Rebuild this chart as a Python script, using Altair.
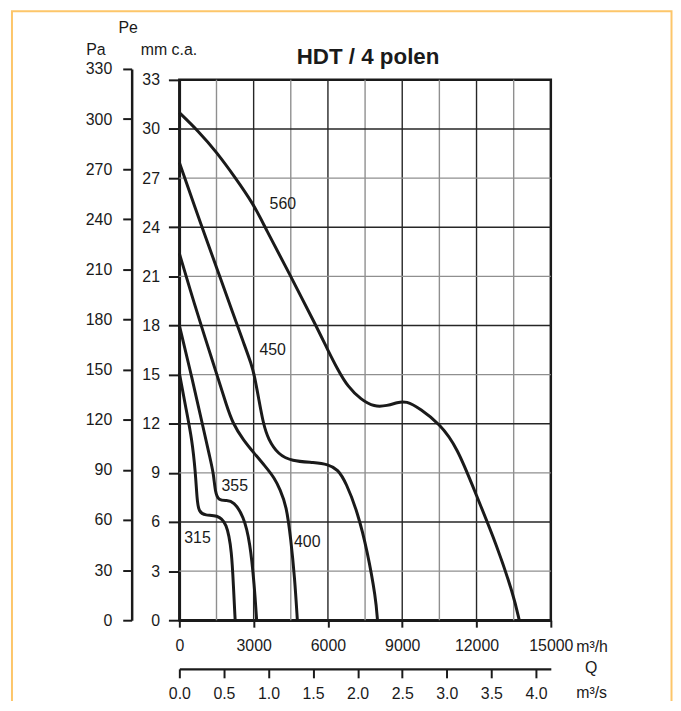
import altair as alt
import pandas as pd

TITLE = "HDT / 4 polen"

# Fan curves: Q in m3/h, pressure in mm c.a.
CURVE_NAMES = ["315", "355", "400", "450", "560"]
Q_315 = [0, 249, 513, 650, 714, 782, 1051, 1516, 1917, 2118, 2186, 2254]
MM_315 = [15.1, 13.06, 11.04, 9.02, 7.4, 6.6, 6.39, 6.43, 5.99, 4.17, 2.0, 0.0]
Q_355 = [0, 481, 934, 1250, 1380, 1450, 1585, 1917, 2186, 2587, 2855, 3028, 3121]
MM_355 = [18.0, 15.0, 11.95, 9.83, 8.96, 7.8, 7.3, 7.32, 7.25, 6.4, 4.78, 2.14, 0.0]
Q_400 = [0, 650, 1050, 1516, 1917, 2150, 2580, 3020, 3457, 3858, 4059, 4324, 4500, 4660, 4765]
MM_400 = [22.4, 19.1, 17.2, 15.0, 13.06, 12.05, 11.0, 10.2, 9.42, 8.65, 8.0, 7.0, 4.97, 2.55, 0.0]
Q_450 = [0, 915, 1500, 2200, 2580, 2920, 3028, 3189, 3389, 3590, 3991, 4524, 5462, 6000, 6400, 6730, 7200, 7600, 7934, 8000]
MM_450 = [27.95, 24.0, 21.55, 18.6, 17.0, 15.6, 14.95, 13.67, 12.0, 11.04, 10.13, 9.72, 9.63, 9.52, 9.22, 8.41, 6.59, 4.17, 1.33, 0.0]
Q_560 = [0, 750, 1500, 2250, 3000, 3457, 4500, 5527, 5995, 6397, 6798, 7333, 7868, 8403, 8804, 9150, 9740, 10500, 11210, 12000, 12815, 13500, 13724]
MM_560 = [31.0, 29.9, 28.6, 27.05, 25.4, 24.0, 21.0, 17.97, 16.5, 15.3, 14.27, 13.47, 13.02, 13.1, 13.3, 13.4, 12.9, 12.0, 10.6, 7.6, 4.6, 1.5, 0.0]

LABEL_Q = [734, 2238, 5166, 3770, 4179]
LABEL_MM = [5.03, 8.19, 4.79, 16.52, 25.4]

Q_TICKS = [0, 3000, 6000, 9000, 12000, 15000]
Q_GRID = [1500, 3000, 4500, 6000, 7500, 9000, 10500, 12000, 13500]
MM_TICKS = [0, 3, 6, 9, 12, 15, 18, 21, 24, 27, 30, 33]
MM_GRID = [3, 6, 9, 12, 15, 18, 21, 24, 27, 30]
PA_TICKS = [0, 30, 60, 90, 120, 150, 180, 210, 240, 270, 300, 330]
QS_TICKS = [0.0, 0.5, 1.0, 1.5, 2.0, 2.5, 3.0, 3.5, 4.0]

W, H = 374, 544
FONT = "Liberation Sans, Arial, sans-serif"
INK = "#1a1a1a"
LBL = 16

rows = []
for name, qs, ms in zip(CURVE_NAMES, [Q_315, Q_355, Q_400, Q_450, Q_560],
                        [MM_315, MM_355, MM_400, MM_450, MM_560]):
    for i, (q, m) in enumerate(zip(qs, ms)):
        rows.append({"curve": name, "i": i, "q": q, "mm": m})
curves_df = pd.DataFrame(rows)
labels_df = pd.DataFrame({"curve": CURVE_NAMES, "q": LABEL_Q, "mm": LABEL_MM})
vgrid_df = pd.DataFrame({"q": Q_GRID, "kind": ["major" if v % 3000 == 0 else "minor" for v in Q_GRID]})
hgrid_df = pd.DataFrame({"mm": MM_GRID, "kind": ["major" if v % 6 == 0 else "minor" for v in MM_GRID]})

xs = alt.Scale(domain=[0, 15000], nice=False, zero=False)
ys = alt.Scale(domain=[0, 33], nice=False, zero=False)

common = dict(title="", grid=False, tickWidth=2, tickColor=INK, domainColor=INK, domainWidth=2.5,
              labelFont=FONT, labelFontSize=LBL, labelColor=INK, labelOverlap=False, labelFlush=False)

x_axis = alt.Axis(values=Q_TICKS, format="d", tickSize=7, labelPadding=11, **common)
y_axis = alt.Axis(values=MM_TICKS, format="d", tickSize=11, labelPadding=9, **common)

def X(field="q"):
    return alt.X(f"{field}:Q", scale=xs, axis=x_axis)

def Y(field="mm"):
    return alt.Y(f"{field}:Q", scale=ys, axis=y_axis)

grid_color = alt.Color("kind:N", scale=alt.Scale(domain=["major", "minor"], range=["#262626", "#8f8f8f"]), legend=None)

vgrid = alt.Chart(vgrid_df).mark_rule(strokeWidth=1.4).encode(x=X(), color=grid_color)
hgrid = alt.Chart(hgrid_df).mark_rule(strokeWidth=1.4).encode(y=Y(), color=grid_color)

lines = alt.Chart(curves_df).mark_line(color=INK, strokeWidth=3, interpolate="basis").encode(
    x=X(), y=Y(), detail="curve:N", order="i:Q")

clabels = alt.Chart(labels_df).mark_text(font=FONT, fontSize=LBL, color=INK, baseline="middle").encode(
    x=X(), y=Y(), text="curve:N")

def note(txt, px, py, align="center", size=LBL, weight="normal"):
    return alt.Chart(pd.DataFrame({"t": [txt]})).mark_text(
        font=FONT, fontSize=size, fontWeight=weight, color=INK, align=align, baseline="alphabetic"
    ).encode(text="t:N", x=alt.value(px), y=alt.value(py))

# plot origin is at page (180.5, 78)
border = alt.Chart(pd.DataFrame({"t": [""]})).mark_rect(
    fill="transparent", stroke="#fdc66a", strokeWidth=2
).encode(x=alt.value(-168.5), x2=alt.value(495.5), y=alt.value(-69), y2=alt.value(700))

notes = [
    note(TITLE, 190, -16, size=22.5, weight="bold"),
    note("Pe", -51.5, -47),
    note("Pa", -84, -25),
    note("mm c.a.", -10.5, -25),
    note("m³/h", 399.5, 576, align="left"),
    note("Q", 414.5, 597),
    note("m³/s", 399.5, 622, align="left"),
]

main = alt.layer(border, vgrid, hgrid, lines, clabels, *notes)

sec_df = pd.DataFrame({"qs": [0.0, 15000 / 3600], "pa": [0, 330]})
secondary = alt.Chart(sec_df).mark_point(opacity=0).encode(
    x=alt.X("qs:Q", scale=alt.Scale(domain=[0, 15000 / 3600], nice=False, zero=False),
            axis=alt.Axis(orient="bottom", offset=49, values=QS_TICKS, format=".1f",
                          tickSize=9, labelPadding=8, **common)),
    y=alt.Y("pa:Q", scale=alt.Scale(domain=[0, 330], range=[H, -11], nice=False, zero=False),
            axis=alt.Axis(orient="left", offset=48, values=PA_TICKS, format="d",
                          tickSize=9, labelPadding=11, **common)),
)

chart = alt.layer(main, secondary).resolve_scale(x="independent", y="independent").properties(
    width=W, height=H,
    autosize=alt.AutoSizeParams(type="none"),
    padding={"left": 172.5, "top": 70, "right": 123, "bottom": 79},
    background="white",
).configure_view(stroke=INK, strokeWidth=2.5)

chart.save("out.html", embed_options={"renderer": "svg", "actions": False})
